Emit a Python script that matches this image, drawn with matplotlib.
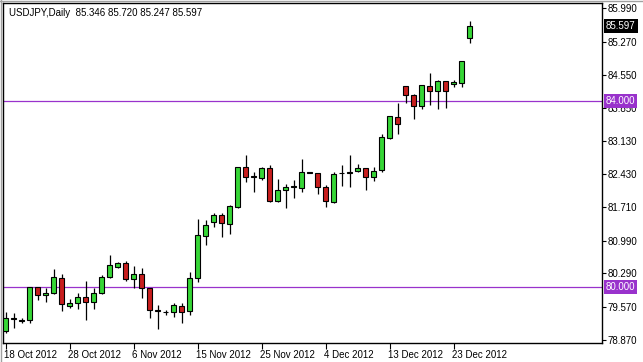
import matplotlib
matplotlib.use("Agg")
import matplotlib.pyplot as plt
from matplotlib.patches import Rectangle
from matplotlib.transforms import ScaledTranslation, blended_transform_factory

# ---------------- data ----------------
chart_title = "USDJPY,Daily  85.346 85.720 85.247 85.597"

opens = [79.059, 79.320, 79.280, 79.295, 79.996, 79.825, 79.868, 80.202, 79.602, 79.653,
         79.782, 79.681, 79.868, 80.224, 80.426, 80.511, 80.168, 80.275, 79.975, 79.500,
         79.460, 79.460, 79.602, 79.488, 80.190, 81.104, 81.391, 81.548, 81.348, 81.726,
         82.572, 82.370, 82.336, 82.550, 81.855, 82.078, 82.150, 82.121, 82.460, 82.443,
         82.142, 81.820, 82.440, 82.443, 82.499, 82.550, 82.353, 82.514, 83.200, 83.658,
         84.305, 84.123, 83.893, 84.323, 84.215, 84.423, 84.353, 84.387, 85.346]
highs = [79.460, 79.445, 79.338, 80.000, 80.000, 79.975, 80.389, 80.282, 79.745, 79.874,
         80.132, 79.975, 80.250, 80.690, 80.530, 80.561, 80.454, 80.404, 79.980, 79.617,
         79.509, 79.653, 79.666, 80.318, 81.462, 81.441, 81.597, 81.597, 81.763, 82.580,
         82.835, 82.471, 82.572, 82.614, 82.314, 82.213, 82.299, 82.743, 82.470, 82.450,
         82.192, 82.464, 82.621, 82.835, 82.642, 82.560, 82.572, 83.280, 83.670, 83.945,
         84.310, 84.144, 84.330, 84.589, 84.440, 84.430, 84.445, 84.850, 85.720]
lows = [79.016, 79.129, 79.237, 79.224, 79.724, 79.687, 79.853, 79.494, 79.559, 79.520,
        79.284, 79.524, 79.853, 80.190, 80.410, 80.132, 79.975, 79.760, 79.331, 79.095,
        79.402, 79.366, 79.224, 79.402, 80.117, 80.904, 81.297, 81.082, 81.134, 81.705,
        82.250, 82.048, 82.299, 81.833, 81.833, 81.687, 81.906, 82.031, 82.440, 81.992,
        81.713, 81.799, 82.177, 82.155, 82.477, 82.084, 82.284, 82.477, 83.172, 83.286,
        83.945, 83.602, 83.812, 83.908, 83.823, 83.833, 84.301, 84.295, 85.247]
closes = [79.331, 79.340, 79.285, 79.996, 79.831, 79.874, 80.224, 79.632, 79.653, 79.782,
          79.675, 79.868, 80.224, 80.475, 80.511, 80.168, 80.275, 79.975, 79.509, 79.488,
          79.462, 79.617, 79.460, 80.190, 81.119, 81.333, 81.548, 81.370, 81.741, 82.572,
          82.357, 82.365, 82.550, 81.855, 82.074, 82.142, 82.160, 82.464, 82.450, 82.142,
          81.842, 82.428, 82.445, 82.477, 82.550, 82.357, 82.499, 83.215, 83.662, 83.494,
          84.112, 83.893, 84.327, 84.215, 84.423, 84.215, 84.396, 84.846, 85.597]

xtick_bars = [0, 8, 16, 24, 32, 40, 48, 56]
xtick_labels = ["18 Oct 2012", "28 Oct 2012", "6 Nov 2012", "15 Nov 2012",
                "25 Nov 2012", "4 Dec 2012", "13 Dec 2012", "23 Dec 2012"]
ytick_values = [85.990, 85.270, 84.550, 83.850, 83.130, 82.430, 81.710,
                80.990, 80.290, 79.570, 78.870]
level_lines = [84.000, 80.000]
last_price = 85.597

# ---------------- style ----------------
plt.rcParams["font.family"] = ["Liberation Sans Narrow", "Liberation Sans", "DejaVu Sans"]
FS = 7.0
GREEN = "#36D636"
RED = "#C81E1E"
PURPLE = "#9932CC"

W, H = 643, 362
fig = plt.figure(figsize=(W / 100, H / 100), dpi=100)
fig.patch.set_facecolor("white")

left_px, right_px, top_px, bottom_px = 2.5, 601.5, 2.5, 342.5
ax = fig.add_axes([left_px / W, 1 - bottom_px / H,
                   (right_px - left_px) / W, (bottom_px - top_px) / H])
ax.set_facecolor("white")

bar_px = 8.0
first_center = 5.5
ax.set_xlim((left_px - first_center) / bar_px, (right_px - first_center) / bar_px)
ax.set_ylim(78.808, 86.108)

body_w = 0.56
for i, (o, h, l, c) in enumerate(zip(opens, highs, lows, closes)):
    ax.plot([i, i], [l, h], color="black", lw=0.9, zorder=2, solid_capstyle="butt")
    bottom = min(o, c)
    height = max(abs(c - o), 0.012)
    fc = GREEN if c >= o else RED
    ax.add_patch(Rectangle((i - body_w / 2, bottom), body_w, height,
                           facecolor=fc, edgecolor="black", lw=0.8, zorder=3))

for lv in level_lines:
    ax.axhline(lv, color=PURPLE, lw=0.9, zorder=1)

for sp in ax.spines.values():
    sp.set_color("black")
    sp.set_linewidth(1.0)

# y axis (right side)
ax.yaxis.tick_right()
ax.set_yticks(ytick_values)
ax.set_yticklabels([f"{v:.3f}" for v in ytick_values])
ax.tick_params(axis="y", direction="out", length=3, width=0.8, pad=1.5,
               labelsize=FS, colors="black")

# x axis
ax.set_xticks(xtick_bars)
ax.set_xticklabels(xtick_labels)
ax.tick_params(axis="x", direction="out", length=4, width=0.8, pad=1.5,
               labelsize=FS, colors="black")
offset = ScaledTranslation(-1.5 / 100, 0, fig.dpi_scale_trans)
for lab in ax.get_xticklabels():
    lab.set_ha("left")
    lab.set_transform(lab.get_transform() + offset)

# price boxes on the right axis
trans = blended_transform_factory(ax.transAxes, ax.transData)
box_off = ScaledTranslation(4.5 / 100, 0, fig.dpi_scale_trans)
for lv in level_lines:
    ax.text(1.0, lv, f"{lv:.3f}", transform=trans + box_off, ha="left", va="center",
            fontsize=FS, color="white", zorder=10, clip_on=False,
            bbox=dict(boxstyle="square,pad=0.2", fc=PURPLE, ec="none"))
ax.text(1.0, last_price, f"{last_price:.3f}", transform=trans + box_off, ha="left",
        va="center", fontsize=FS, color="white", zorder=10, clip_on=False,
        bbox=dict(boxstyle="square,pad=0.2", fc="black", ec="none"))

# title
fig.text(9 / W, 1 - 13 / H, chart_title, ha="left", va="center", fontsize=FS, color="black")

# outer window frame
fig.add_artist(plt.Line2D([0, 1], [1 - 0.5 / H, 1 - 0.5 / H], transform=fig.transFigure,
                          color="#A0A0A0", lw=1))
fig.add_artist(plt.Line2D([0.5 / W, 0.5 / W], [0, 1], transform=fig.transFigure,
                          color="#A0A0A0", lw=1))

fig.savefig("out.png", dpi=100, facecolor="white")
